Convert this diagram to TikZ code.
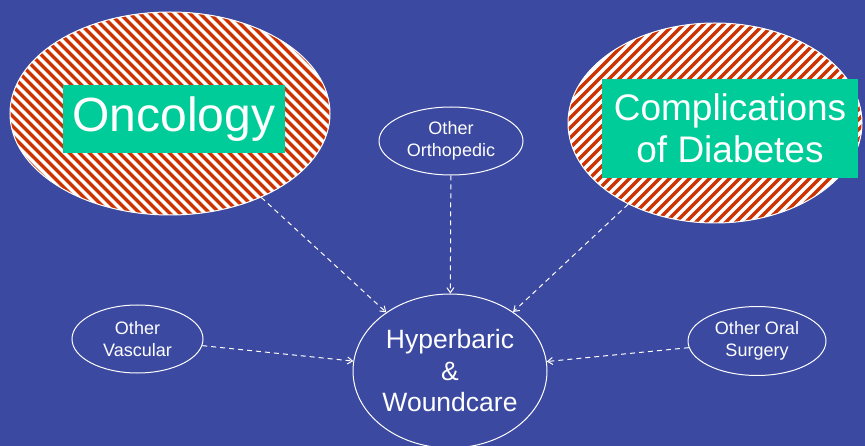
\documentclass[tikz,border=0pt]{standalone}
\usepackage{fontspec}
\setmainfont{Liberation Sans}
\usetikzlibrary{shapes.geometric}
\usetikzlibrary{arrows.meta}
\definecolor{slideblue}{RGB}{59,73,160}
\definecolor{labelgreen}{RGB}{0,204,153}
\definecolor{stripered}{RGB}{204,51,0}

\begin{document}
\begin{tikzpicture}[x=1pt,y=-1pt,
	oval/.style={ellipse,draw=white,line width=1pt,inner sep=0pt,text=white,align=center,font=\fontsize{18}{22}\selectfont},
	bigoval/.style={ellipse,draw=white,fill=white,line width=1pt,inner sep=0pt},
	stripesdown/.style={path picture={\foreach \k in {-30,...,30}{\draw[stripered,line width=3.3pt] ([xshift=\k*10pt]path picture bounding box.center) ++(-180pt,180pt) -- ++(360pt,-360pt);}}},
	stripesup/.style={path picture={\foreach \k in {-30,...,30}{\draw[stripered,line width=3.3pt] ([xshift=\k*10pt]path picture bounding box.center) ++(-180pt,-180pt) -- ++(360pt,360pt);}}},
	greenlabel/.style={rectangle,fill=labelgreen,text=white,inner sep=0pt,align=center},
	feed/.style={draw=white,line width=1pt,dash pattern=on 5pt off 4pt,-{Straight Barb[length=5pt,width=7pt]}}]
	\useasboundingbox (0,0) rectangle (865,446);
	\fill[slideblue] (0,0) rectangle (865,446);

	\node[bigoval,stripesdown,minimum width=320pt,minimum height=203pt] (onc) at (170,113.5) {};
	\node[bigoval,stripesup,minimum width=294pt,minimum height=200pt] (diab) at (715,123) {};
	\node[greenlabel,minimum width=222pt,minimum height=68pt,font=\fontsize{48}{54}\selectfont] (onclabel) at (174,119) {Oncology};
	\node[greenlabel,minimum width=256pt,minimum height=99pt,font=\fontsize{37}{42}\selectfont] (diablabel) at (730,128.5) {Complications\\of Diabetes};

	\node[oval,minimum width=144pt,minimum height=68pt] (ortho) at (451,141) {Other\\Orthopedic};
	\node[oval,minimum width=131pt,minimum height=68pt] (vasc) at (137.5,339) {Other\\Vascular};
	\node[oval,minimum width=138pt,minimum height=69pt] (oral) at (757,341) {Other Oral\\Surgery};
	\node[oval,minimum width=194pt,minimum height=154pt,font=\fontsize{26.5}{31.5}\selectfont] (hyp) at (450,371) {Hyperbaric\\\&\\Woundcare};

	\draw[feed] (onc) -- (hyp);
	\draw[feed] (diab) -- (hyp);
	\draw[feed] (ortho) -- (hyp);
	\draw[feed] (vasc) -- (hyp);
	\draw[feed] (oral) -- (hyp);
\end{tikzpicture}
\end{document}
